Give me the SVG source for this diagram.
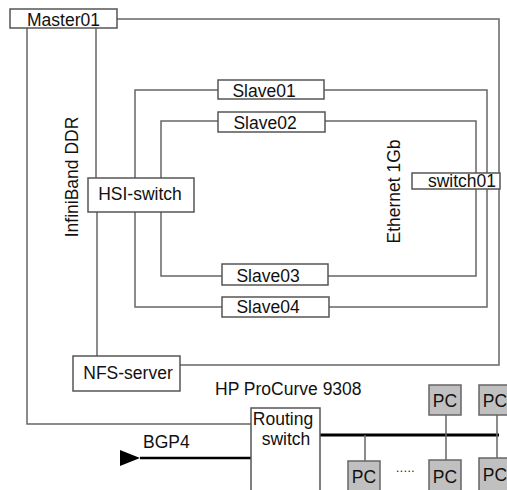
<svg xmlns="http://www.w3.org/2000/svg" width="507" height="490" viewBox="0 0 507 490">
<style>
.box{fill:#fff;stroke:#555;stroke-width:1.5}
.pc{fill:#c0c0c0;stroke:#666;stroke-width:1.5}
.ln{fill:none;stroke:#666;stroke-width:1.5}
.t{font-family:"Liberation Sans",Arial,sans-serif;font-size:17.5px;fill:#111}
.c{text-anchor:middle}
</style>
<defs>
<marker id="ah" markerUnits="userSpaceOnUse" markerWidth="22" markerHeight="18" refX="1" refY="9" orient="auto">
<path d="M21,1 L1,9 L21,17 Z" fill="#000"/>
</marker>
</defs>
<g id="connectors">
<polyline class="ln" points="117,19 499,19 499,365 180,365"/>
<polyline class="ln" points="27,28 27,424 251,424"/>
<line class="ln" x1="96" y1="28" x2="96" y2="178"/>
<line class="ln" x1="97" y1="212" x2="97" y2="356"/>
<polyline class="ln" points="218,90 135,90 135,307 222,307"/>
<polyline class="ln" points="218,121 161,121 161,276 222,276"/>
<polyline class="ln" points="324,90 487,90 487,307 329,307"/>
<polyline class="ln" points="325,121 476,121 476,276 328,276"/>
<line x1="251" y1="458" x2="140" y2="458" stroke="#000" stroke-width="2.5" marker-end="url(#ah)"/>
<line x1="320" y1="435" x2="499" y2="435" stroke="#000" stroke-width="3"/>
<line class="ln" x1="365" y1="435" x2="365" y2="461"/>
<line class="ln" x1="446" y1="415" x2="446" y2="460"/>
<line class="ln" x1="497" y1="415" x2="497" y2="458"/>
</g>
<g id="Master01"><rect class="box" x="10" y="9" width="107" height="19"/><text class="t c" x="63.5" y="25.5">Master01</text></g>
<g id="Slave01"><rect class="box" x="218" y="80" width="106" height="19"/><text class="t c" x="264" y="96.5">Slave01</text></g>
<g id="Slave02"><rect class="box" x="218" y="112" width="107" height="20"/><text class="t c" x="265" y="128.5">Slave02</text></g>
<g id="Slave03"><rect class="box" x="222" y="264" width="106" height="21"/><text class="t c" x="268" y="281.5">Slave03</text></g>
<g id="Slave04"><rect class="box" x="222" y="297" width="107" height="20"/><text class="t c" x="268" y="313">Slave04</text></g>
<g id="HSI-switch"><rect class="box" x="88" y="178" width="106" height="34"/><text class="t c" x="140" y="200">HSI-switch</text></g>
<g id="switch01"><rect class="box" x="412" y="173" width="88" height="16"/><text class="t c" x="462" y="187">switch01</text></g>
<g id="NFS-server"><rect class="box" x="73" y="356" width="107" height="35"/><text class="t c" x="128" y="379">NFS-server</text></g>
<g id="RoutingSwitch"><rect class="box" x="251" y="408" width="69" height="90"/><text class="t c" x="283" y="425">Routing</text><text class="t c" x="286" y="445">switch</text></g>
<g id="PC1"><rect class="pc" x="429" y="385" width="32" height="30"/><text class="t c" x="445" y="407">PC</text></g>
<g id="PC2"><rect class="pc" x="479" y="385" width="32" height="30"/><text class="t c" x="495" y="407">PC</text></g>
<g id="PC3"><rect class="pc" x="348" y="461" width="32" height="34"/><text class="t c" x="364" y="483">PC</text></g>
<g id="PC4"><rect class="pc" x="429" y="460" width="32" height="35"/><text class="t c" x="445" y="483">PC</text></g>
<g id="PC5"><rect class="pc" x="479" y="458" width="32" height="37"/><text class="t c" x="495" y="481">PC</text></g>
<g id="labels">
<text class="t c" transform="translate(78,177) rotate(-90)">InfiniBand DDR</text>
<text class="t c" transform="translate(400,191.5) rotate(-90)">Ethernet 1Gb</text>
<text class="t" x="215" y="395">HP ProCurve 9308</text>
<text class="t" x="143" y="448">BGP4</text>
<text class="t" x="396" y="472" style="font-size:12px;letter-spacing:0.5px">.....</text>
</g>
</svg>
